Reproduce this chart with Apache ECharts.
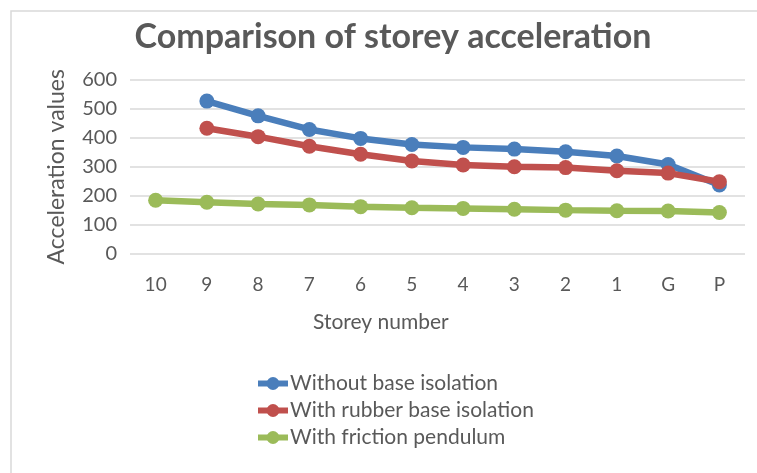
<!DOCTYPE html>
<html><head><meta charset="utf-8">
<script src="https://cdn.jsdelivr.net/npm/echarts@6/dist/echarts.min.js"></script>
<style>html,body{margin:0;padding:0;background:#fff}#c{width:757px;height:473px}</style>
</head><body><div id="c"></div>
<script>
var categories = ['10','9','8','7','6','5','4','3','2','1','G','P'];
var withoutBase = [null,527,476,429,398,377,367,361,352,337,308,237];
var withRubber = [null,433,404,371,343,320,306,300,297,286,278,248];
var withFriction = [184,177,171,168,162,158,156,153,150,148,147,142];
var yTicks = [0,100,200,300,400,500,600];
var seriesNames = ['Without base isolation','With rubber base isolation','With friction pendulum'];
var colors = ['#4A7EBB','#C0504D','#9BBB59'];
var FONT = 'Lato';
var chart = echarts.init(document.getElementById('c'));
function mk(name, data, color){
  return {name:name,type:'line',data:data,symbol:'circle',symbolSize:15,
    lineStyle:{width:6.5,color:color},itemStyle:{color:color},connectNulls:false,z:2};
}
chart.setOption({
  animation:false,
  textStyle:{fontFamily:FONT},
  title:{text:'Comparison of storey acceleration',left:388,textAlign:'center',top:15,
    textStyle:{fontFamily:FONT,fontSize:34,fontWeight:'bold',color:'#595959'}},
  grid:{left:130,right:12,top:80,bottom:219.5},
  graphic:[{type:'rect',shape:{x:11,y:11,width:800,height:500},style:{fill:'none',stroke:'#D9D9D9',lineWidth:1.5},silent:true,z:-1},
    {type:'text',left:313,top:312,style:{text:'Storey number',fontFamily:FONT,fontSize:21,fill:'#595959'}}],
  xAxis:{type:'category',data:categories,boundaryGap:true,
    axisLine:{show:false},axisTick:{show:false},
    axisLabel:{fontSize:19,color:'#595959',margin:22,fontFamily:FONT}},
  yAxis:{type:'value',min:0,max:600,interval:100,
    name:'Acceleration values',nameLocation:'middle',nameGap:62,nameRotate:90,
    nameTextStyle:{fontSize:23,color:'#595959',fontFamily:FONT},
    axisLine:{show:false},axisTick:{show:false},
    axisLabel:{fontSize:20,color:'#595959',margin:13,fontFamily:FONT},
    splitLine:{lineStyle:{color:'#D9D9D9',width:1.5}}},
  legend:{orient:'vertical',left:250,top:368,itemGap:6,itemWidth:30,itemHeight:16,
    data:seriesNames,lineStyle:{width:6},
    textStyle:{fontSize:21,color:'#595959',fontFamily:FONT,padding:[0,0,0,-3]}},
  series:[mk(seriesNames[0],withoutBase,colors[0]),mk(seriesNames[1],withRubber,colors[1]),mk(seriesNames[2],withFriction,colors[2])]
});
</script></body></html>
